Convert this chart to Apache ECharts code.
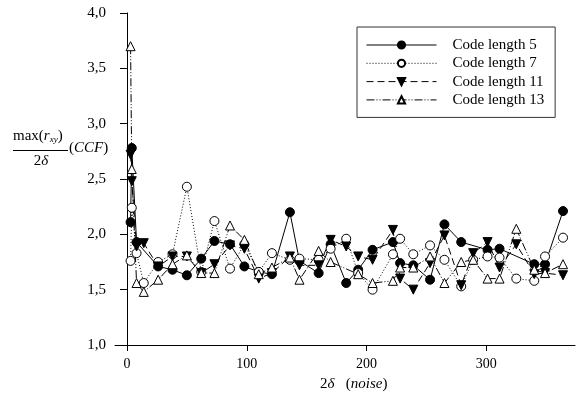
<!DOCTYPE html>
<html><head><meta charset="utf-8">
<script src="https://cdn.jsdelivr.net/npm/echarts@6/dist/echarts.min.js"></script>
<style>html,body{margin:0;padding:0;background:#fff}#c{width:576px;height:394px}</style>
</head><body><div id="c"></div>
<script>
const seriesNames = ['Code length 5', 'Code length 7', 'Code length 11', 'Code length 13'];
const x5 = [3, 4, 8, 26, 38, 50, 62, 73, 86, 98, 110, 121, 136, 144, 160, 170, 183, 193, 205, 222, 228, 239, 253, 265, 279, 301, 311, 340, 349, 364];
const y5 = [2.11, 2.78, 1.93, 1.71, 1.68, 1.63, 1.78, 1.94, 1.91, 1.71, 1.66, 1.64, 2.20, 1.76, 1.65, 1.91, 1.56, 1.68, 1.86, 1.93, 1.74, 1.72, 1.59, 2.09, 1.93, 1.86, 1.87, 1.73, 1.73, 2.21];
const x7 = [3, 4, 8, 14, 26, 38, 50, 62, 73, 86, 98, 110, 121, 136, 144, 160, 170, 183, 193, 205, 222, 228, 239, 253, 265, 279, 289, 301, 311, 325, 340, 349, 364];
const y7 = [1.76, 2.24, 1.83, 1.56, 1.75, 1.82, 2.43, 1.66, 2.12, 1.69, 1.91, 1.66, 1.83, 1.77, 1.78, 1.77, 1.87, 1.96, 1.65, 1.50, 1.82, 1.96, 1.82, 1.90, 1.77, 1.53, 1.77, 1.80, 1.79, 1.60, 1.58, 1.80, 1.97];
const x11 = [3, 4, 8, 14, 26, 38, 50, 62, 73, 86, 98, 110, 121, 136, 144, 160, 170, 183, 193, 205, 222, 228, 239, 253, 265, 279, 289, 301, 311, 325, 340, 349, 364];
const y11 = [2.72, 2.48, 1.89, 1.92, 1.71, 1.80, 1.80, 1.65, 1.73, 1.90, 1.87, 1.60, 1.65, 1.80, 1.72, 1.72, 1.95, 1.89, 1.80, 1.77, 2.04, 1.60, 1.50, 1.74, 1.99, 1.54, 1.83, 1.93, 1.70, 1.91, 1.64, 1.65, 1.63];
const x13 = [3, 4, 8, 14, 26, 38, 50, 62, 73, 86, 98, 110, 121, 136, 144, 160, 170, 193, 205, 222, 228, 239, 253, 265, 279, 289, 301, 311, 325, 340, 349, 364];
const y13 = [3.70, 2.59, 1.56, 1.48, 1.59, 1.73, 1.81, 1.65, 1.65, 2.08, 1.95, 1.64, 1.70, 1.79, 1.59, 1.85, 1.75, 1.64, 1.56, 1.58, 1.70, 1.70, 1.80, 1.56, 1.75, 1.77, 1.60, 1.60, 2.05, 1.68, 1.65, 1.73];
const xTickValues = [0, 100, 200, 300];

const FONT = 'Liberation Serif';
const pairs = (xs, ys) => xs.map((v, i) => [v, ys[i]]);

const chart = echarts.init(document.getElementById('c'), null, {renderer: 'canvas'});
const base = {type: 'line', symbolSize: 9, emphasis: {disabled: true}, animation: false};
chart.setOption({
  backgroundColor: '#fff',
  animation: false,
  grid: {left: 115, right: 1, top: 13, bottom: 49},
  xAxis: {
    type: 'value', min: -10, max: 374,
    axisLine: {lineStyle: {color: '#000', width: 1}},
    axisTick: {show: true, length: 6, lineStyle: {color: '#000'}, customValues: xTickValues},
    axisLabel: {customValues: xTickValues, color: '#000', fontFamily: FONT, fontSize: 14, margin: 12},
    splitLine: {show: false}
  },
  yAxis: {
    type: 'value', min: 1, max: 4, interval: 0.5,
    axisLine: {show: true, lineStyle: {color: '#000', width: 1}},
    axisTick: {show: true, length: 7, lineStyle: {color: '#000'}},
    axisLabel: {color: '#000', fontFamily: FONT, fontSize: 15, margin: 9,
      formatter: v => v.toFixed(1).replace('.', ',')},
    splitLine: {show: false}
  },
  legend: {
    orient: 'vertical', left: 357, top: 27,
    itemWidth: 70, itemHeight: 9, itemGap: 3.3,
    padding: [10.5, 11, 10, 9],
    borderColor: '#333', borderWidth: 1,
    lineStyle: {width: 1},
    textStyle: {fontFamily: FONT, fontSize: 15, color: '#000', padding: [0, 0, 0, 11]},
    data: seriesNames
  },
  series: [
    Object.assign({}, base, {name: seriesNames[0], data: pairs(x5, y5), symbol: 'circle',
      itemStyle: {color: '#000', borderColor: '#000', borderWidth: 1}, lineStyle: {color: '#000', width: 1, type: 'solid'}}),
    Object.assign({}, base, {name: seriesNames[1], data: pairs(x7, y7), symbol: 'circle',
      itemStyle: {color: '#fff', borderColor: '#000', borderWidth: 1}, lineStyle: {color: '#000', width: 1, type: [1, 2]}}),
    Object.assign({}, base, {name: seriesNames[2], data: pairs(x11, y11), symbol: 'triangle', symbolRotate: 180,
      itemStyle: {color: '#000', borderColor: '#000', borderWidth: 1}, lineStyle: {color: '#000', width: 1, type: [7, 4]}}),
    Object.assign({}, base, {name: seriesNames[3], data: pairs(x13, y13), symbol: 'triangle',
      itemStyle: {color: '#fff', borderColor: '#000', borderWidth: 1}, lineStyle: {color: '#000', width: 1, type: [8, 2, 1, 2, 1, 2]}})
  ],
  graphic: [
    {type: 'text', left: 13, top: 129, style: {
      text: '{n|max(}{i|r}{s|xy}{n|)}', fill: '#000',
      rich: {n: {fontFamily: FONT, fontSize: 15, lineHeight: 18, verticalAlign: 'bottom'},
             i: {fontFamily: FONT, fontSize: 15, fontStyle: 'italic', lineHeight: 18, verticalAlign: 'bottom'},
             s: {fontFamily: FONT, fontSize: 9, fontStyle: 'italic', lineHeight: 10, verticalAlign: 'bottom'}}}},
    {type: 'line', shape: {x1: 13, y1: 150.5, x2: 68, y2: 150.5}, style: {stroke: '#000', lineWidth: 1}},
    {type: 'text', x: 41, y: 161, style: {
      text: '{n|2}{i|δ}', align: 'center', verticalAlign: 'middle', fill: '#000',
      rich: {n: {fontFamily: FONT, fontSize: 15}, i: {fontFamily: FONT, fontSize: 15, fontStyle: 'italic'}}}},
    {type: 'text', x: 69, y: 148, style: {
      text: '{n|(}{i|CCF}{n|)}', align: 'left', verticalAlign: 'middle', fill: '#000',
      rich: {n: {fontFamily: FONT, fontSize: 15}, i: {fontFamily: FONT, fontSize: 15, fontStyle: 'italic'}}}},
    {type: 'text', x: 320, y: 384, style: {
      text: '{n|2}{i|δ}{n|   (}{i|noise}{n|)}', align: 'left', verticalAlign: 'middle', fill: '#000',
      rich: {n: {fontFamily: FONT, fontSize: 15}, i: {fontFamily: FONT, fontSize: 15, fontStyle: 'italic'}}}}
  ]
});
</script></body></html>
